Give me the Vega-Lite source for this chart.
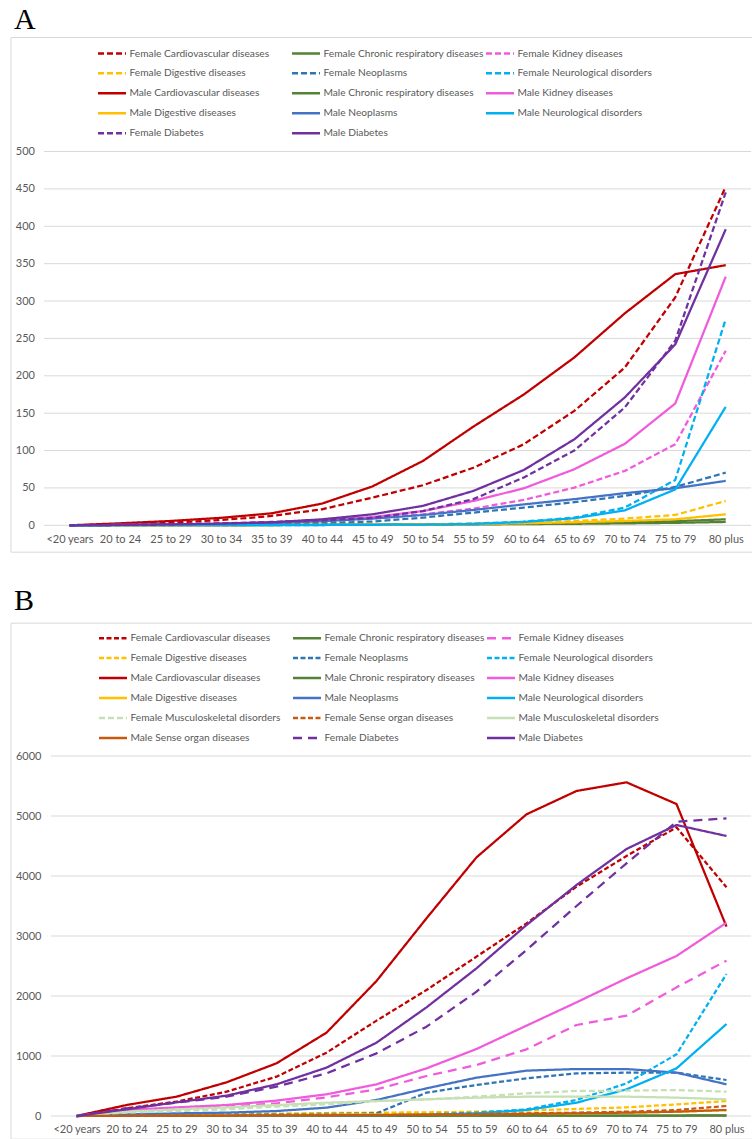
{
"$schema": "https://vega.github.io/schema/vega-lite/v6.json",
"padding": {"left": 9.5, "top": 4, "right": 0, "bottom": 0},
"spacing": 31.7,
"config": {"font": "Lato", "view": {"stroke": "#D9D9D9", "strokeWidth": 1},
 "legend": {"orient": "none", "direction": "horizontal", "title": null, "columns": 3, "gridAlign": "all", "columnPadding": 0, "rowPadding": 2, "clipHeight": 17.5, "symbolType": "stroke", "symbolSize": 784, "symbolStrokeWidth": 2.5, "labelFont": "Lato", "labelFontSize": 10.2, "labelColor": "#595959", "labelLimit": 300, "labelOffset": 2, "padding": 0},
 "title": {"anchor": "start", "frame": "group", "font": "Liberation Serif", "fontSize": 30, "fontWeight": "normal", "color": "#000000", "offset": 2, "dx": 3.5}},
"datasets": {
"a": [
{"age":"<20 years","series":"Female Cardiovascular diseases","value":0},{"age":"20 to 24","series":"Female Cardiovascular diseases","value":1.3},{"age":"25 to 29","series":"Female Cardiovascular diseases","value":3.6},{"age":"30 to 34","series":"Female Cardiovascular diseases","value":7},{"age":"35 to 39","series":"Female Cardiovascular diseases","value":12.5},{"age":"40 to 44","series":"Female Cardiovascular diseases","value":21.4},{"age":"45 to 49","series":"Female Cardiovascular diseases","value":37},{"age":"50 to 54","series":"Female Cardiovascular diseases","value":53.6},{"age":"55 to 59","series":"Female Cardiovascular diseases","value":77},{"age":"60 to 64","series":"Female Cardiovascular diseases","value":108.5},{"age":"65 to 69","series":"Female Cardiovascular diseases","value":153},{"age":"70 to 74","series":"Female Cardiovascular diseases","value":211},{"age":"75 to 79","series":"Female Cardiovascular diseases","value":305},{"age":"80 plus","series":"Female Cardiovascular diseases","value":453},
{"age":"<20 years","series":"Female Chronic respiratory diseases","value":0},{"age":"20 to 24","series":"Female Chronic respiratory diseases","value":0.1},{"age":"25 to 29","series":"Female Chronic respiratory diseases","value":0.2},{"age":"30 to 34","series":"Female Chronic respiratory diseases","value":0.3},{"age":"35 to 39","series":"Female Chronic respiratory diseases","value":0.4},{"age":"40 to 44","series":"Female Chronic respiratory diseases","value":0.5},{"age":"45 to 49","series":"Female Chronic respiratory diseases","value":0.7},{"age":"50 to 54","series":"Female Chronic respiratory diseases","value":0.9},{"age":"55 to 59","series":"Female Chronic respiratory diseases","value":1.2},{"age":"60 to 64","series":"Female Chronic respiratory diseases","value":1.6},{"age":"65 to 69","series":"Female Chronic respiratory diseases","value":2},{"age":"70 to 74","series":"Female Chronic respiratory diseases","value":2.6},{"age":"75 to 79","series":"Female Chronic respiratory diseases","value":3.3},{"age":"80 plus","series":"Female Chronic respiratory diseases","value":4.5},
{"age":"<20 years","series":"Female Kidney diseases","value":0},{"age":"20 to 24","series":"Female Kidney diseases","value":0.5},{"age":"25 to 29","series":"Female Kidney diseases","value":1},{"age":"30 to 34","series":"Female Kidney diseases","value":2},{"age":"35 to 39","series":"Female Kidney diseases","value":3.5},{"age":"40 to 44","series":"Female Kidney diseases","value":5.5},{"age":"45 to 49","series":"Female Kidney diseases","value":9},{"age":"50 to 54","series":"Female Kidney diseases","value":14.7},{"age":"55 to 59","series":"Female Kidney diseases","value":22.3},{"age":"60 to 64","series":"Female Kidney diseases","value":34},{"age":"65 to 69","series":"Female Kidney diseases","value":50.4},{"age":"70 to 74","series":"Female Kidney diseases","value":72.8},{"age":"75 to 79","series":"Female Kidney diseases","value":108.5},{"age":"80 plus","series":"Female Kidney diseases","value":233.5},
{"age":"<20 years","series":"Female Digestive diseases","value":0},{"age":"20 to 24","series":"Female Digestive diseases","value":0.1},{"age":"25 to 29","series":"Female Digestive diseases","value":0.2},{"age":"30 to 34","series":"Female Digestive diseases","value":0.3},{"age":"35 to 39","series":"Female Digestive diseases","value":0.5},{"age":"40 to 44","series":"Female Digestive diseases","value":0.7},{"age":"45 to 49","series":"Female Digestive diseases","value":1},{"age":"50 to 54","series":"Female Digestive diseases","value":1.5},{"age":"55 to 59","series":"Female Digestive diseases","value":2.2},{"age":"60 to 64","series":"Female Digestive diseases","value":3.6},{"age":"65 to 69","series":"Female Digestive diseases","value":5.8},{"age":"70 to 74","series":"Female Digestive diseases","value":9},{"age":"75 to 79","series":"Female Digestive diseases","value":13.8},{"age":"80 plus","series":"Female Digestive diseases","value":32.6},
{"age":"<20 years","series":"Female Neoplasms","value":0},{"age":"20 to 24","series":"Female Neoplasms","value":0.4},{"age":"25 to 29","series":"Female Neoplasms","value":0.8},{"age":"30 to 34","series":"Female Neoplasms","value":1.3},{"age":"35 to 39","series":"Female Neoplasms","value":2},{"age":"40 to 44","series":"Female Neoplasms","value":3},{"age":"45 to 49","series":"Female Neoplasms","value":5},{"age":"50 to 54","series":"Female Neoplasms","value":10.3},{"age":"55 to 59","series":"Female Neoplasms","value":17},{"age":"60 to 64","series":"Female Neoplasms","value":23.7},{"age":"65 to 69","series":"Female Neoplasms","value":31},{"age":"70 to 74","series":"Female Neoplasms","value":39.3},{"age":"75 to 79","series":"Female Neoplasms","value":51.3},{"age":"80 plus","series":"Female Neoplasms","value":70.5},
{"age":"<20 years","series":"Female Neurological disorders","value":0},{"age":"20 to 24","series":"Female Neurological disorders","value":0.1},{"age":"25 to 29","series":"Female Neurological disorders","value":0.1},{"age":"30 to 34","series":"Female Neurological disorders","value":0.2},{"age":"35 to 39","series":"Female Neurological disorders","value":0.3},{"age":"40 to 44","series":"Female Neurological disorders","value":0.4},{"age":"45 to 49","series":"Female Neurological disorders","value":0.6},{"age":"50 to 54","series":"Female Neurological disorders","value":1.3},{"age":"55 to 59","series":"Female Neurological disorders","value":2.2},{"age":"60 to 64","series":"Female Neurological disorders","value":5},{"age":"65 to 69","series":"Female Neurological disorders","value":10.3},{"age":"70 to 74","series":"Female Neurological disorders","value":23.7},{"age":"75 to 79","series":"Female Neurological disorders","value":60.7},{"age":"80 plus","series":"Female Neurological disorders","value":276},
{"age":"<20 years","series":"Male Cardiovascular diseases","value":0},{"age":"20 to 24","series":"Male Cardiovascular diseases","value":2.7},{"age":"25 to 29","series":"Male Cardiovascular diseases","value":5.8},{"age":"30 to 34","series":"Male Cardiovascular diseases","value":10},{"age":"35 to 39","series":"Male Cardiovascular diseases","value":16},{"age":"40 to 44","series":"Male Cardiovascular diseases","value":29},{"age":"45 to 49","series":"Male Cardiovascular diseases","value":52},{"age":"50 to 54","series":"Male Cardiovascular diseases","value":86},{"age":"55 to 59","series":"Male Cardiovascular diseases","value":132},{"age":"60 to 64","series":"Male Cardiovascular diseases","value":175},{"age":"65 to 69","series":"Male Cardiovascular diseases","value":224.5},{"age":"70 to 74","series":"Male Cardiovascular diseases","value":283.5},{"age":"75 to 79","series":"Male Cardiovascular diseases","value":336},{"age":"80 plus","series":"Male Cardiovascular diseases","value":348},
{"age":"<20 years","series":"Male Chronic respiratory diseases","value":0},{"age":"20 to 24","series":"Male Chronic respiratory diseases","value":0.1},{"age":"25 to 29","series":"Male Chronic respiratory diseases","value":0.2},{"age":"30 to 34","series":"Male Chronic respiratory diseases","value":0.3},{"age":"35 to 39","series":"Male Chronic respiratory diseases","value":0.5},{"age":"40 to 44","series":"Male Chronic respiratory diseases","value":0.7},{"age":"45 to 49","series":"Male Chronic respiratory diseases","value":1},{"age":"50 to 54","series":"Male Chronic respiratory diseases","value":1.3},{"age":"55 to 59","series":"Male Chronic respiratory diseases","value":1.7},{"age":"60 to 64","series":"Male Chronic respiratory diseases","value":2.2},{"age":"65 to 69","series":"Male Chronic respiratory diseases","value":3},{"age":"70 to 74","series":"Male Chronic respiratory diseases","value":4},{"age":"75 to 79","series":"Male Chronic respiratory diseases","value":5.5},{"age":"80 plus","series":"Male Chronic respiratory diseases","value":8},
{"age":"<20 years","series":"Male Kidney diseases","value":0},{"age":"20 to 24","series":"Male Kidney diseases","value":0.5},{"age":"25 to 29","series":"Male Kidney diseases","value":1},{"age":"30 to 34","series":"Male Kidney diseases","value":2},{"age":"35 to 39","series":"Male Kidney diseases","value":4},{"age":"40 to 44","series":"Male Kidney diseases","value":6.7},{"age":"45 to 49","series":"Male Kidney diseases","value":11},{"age":"50 to 54","series":"Male Kidney diseases","value":19},{"age":"55 to 59","series":"Male Kidney diseases","value":32.6},{"age":"60 to 64","series":"Male Kidney diseases","value":49.5},{"age":"65 to 69","series":"Male Kidney diseases","value":75},{"age":"70 to 74","series":"Male Kidney diseases","value":109},{"age":"75 to 79","series":"Male Kidney diseases","value":163},{"age":"80 plus","series":"Male Kidney diseases","value":332.6},
{"age":"<20 years","series":"Male Digestive diseases","value":0},{"age":"20 to 24","series":"Male Digestive diseases","value":0.1},{"age":"25 to 29","series":"Male Digestive diseases","value":0.2},{"age":"30 to 34","series":"Male Digestive diseases","value":0.3},{"age":"35 to 39","series":"Male Digestive diseases","value":0.4},{"age":"40 to 44","series":"Male Digestive diseases","value":0.5},{"age":"45 to 49","series":"Male Digestive diseases","value":0.8},{"age":"50 to 54","series":"Male Digestive diseases","value":1.3},{"age":"55 to 59","series":"Male Digestive diseases","value":1.8},{"age":"60 to 64","series":"Male Digestive diseases","value":2.7},{"age":"65 to 69","series":"Male Digestive diseases","value":4},{"age":"70 to 74","series":"Male Digestive diseases","value":5.8},{"age":"75 to 79","series":"Male Digestive diseases","value":8},{"age":"80 plus","series":"Male Digestive diseases","value":14.7},
{"age":"<20 years","series":"Male Neoplasms","value":0},{"age":"20 to 24","series":"Male Neoplasms","value":0.5},{"age":"25 to 29","series":"Male Neoplasms","value":1},{"age":"30 to 34","series":"Male Neoplasms","value":1.8},{"age":"35 to 39","series":"Male Neoplasms","value":3},{"age":"40 to 44","series":"Male Neoplasms","value":5.4},{"age":"45 to 49","series":"Male Neoplasms","value":9},{"age":"50 to 54","series":"Male Neoplasms","value":13.8},{"age":"55 to 59","series":"Male Neoplasms","value":20.5},{"age":"60 to 64","series":"Male Neoplasms","value":28},{"age":"65 to 69","series":"Male Neoplasms","value":35},{"age":"70 to 74","series":"Male Neoplasms","value":43},{"age":"75 to 79","series":"Male Neoplasms","value":49.6},{"age":"80 plus","series":"Male Neoplasms","value":59.4},
{"age":"<20 years","series":"Male Neurological disorders","value":0},{"age":"20 to 24","series":"Male Neurological disorders","value":0.1},{"age":"25 to 29","series":"Male Neurological disorders","value":0.1},{"age":"30 to 34","series":"Male Neurological disorders","value":0.2},{"age":"35 to 39","series":"Male Neurological disorders","value":0.3},{"age":"40 to 44","series":"Male Neurological disorders","value":0.4},{"age":"45 to 49","series":"Male Neurological disorders","value":0.7},{"age":"50 to 54","series":"Male Neurological disorders","value":1},{"age":"55 to 59","series":"Male Neurological disorders","value":1.8},{"age":"60 to 64","series":"Male Neurological disorders","value":4.5},{"age":"65 to 69","series":"Male Neurological disorders","value":9.4},{"age":"70 to 74","series":"Male Neurological disorders","value":20},{"age":"75 to 79","series":"Male Neurological disorders","value":48},{"age":"80 plus","series":"Male Neurological disorders","value":158.5},
{"age":"<20 years","series":"Female Diabetes","value":0},{"age":"20 to 24","series":"Female Diabetes","value":0.5},{"age":"25 to 29","series":"Female Diabetes","value":1.3},{"age":"30 to 34","series":"Female Diabetes","value":2.7},{"age":"35 to 39","series":"Female Diabetes","value":4.5},{"age":"40 to 44","series":"Female Diabetes","value":6.7},{"age":"45 to 49","series":"Female Diabetes","value":10},{"age":"50 to 54","series":"Female Diabetes","value":19},{"age":"55 to 59","series":"Female Diabetes","value":35},{"age":"60 to 64","series":"Female Diabetes","value":64},{"age":"65 to 69","series":"Female Diabetes","value":100},{"age":"70 to 74","series":"Female Diabetes","value":157.6},{"age":"75 to 79","series":"Female Diabetes","value":247},{"age":"80 plus","series":"Female Diabetes","value":445.5},
{"age":"<20 years","series":"Male Diabetes","value":0},{"age":"20 to 24","series":"Male Diabetes","value":0.5},{"age":"25 to 29","series":"Male Diabetes","value":1.3},{"age":"30 to 34","series":"Male Diabetes","value":2.2},{"age":"35 to 39","series":"Male Diabetes","value":4},{"age":"40 to 44","series":"Male Diabetes","value":8},{"age":"45 to 49","series":"Male Diabetes","value":14.7},{"age":"50 to 54","series":"Male Diabetes","value":26},{"age":"55 to 59","series":"Male Diabetes","value":46},{"age":"60 to 64","series":"Male Diabetes","value":74},{"age":"65 to 69","series":"Male Diabetes","value":115},{"age":"70 to 74","series":"Male Diabetes","value":171},{"age":"75 to 79","series":"Male Diabetes","value":242},{"age":"80 plus","series":"Male Diabetes","value":396}
],
"b": [
{"age":"<20 years","series":"Female Cardiovascular diseases","value":0},{"age":"20 to 24","series":"Female Cardiovascular diseases","value":128},{"age":"25 to 29","series":"Female Cardiovascular diseases","value":239},{"age":"30 to 34","series":"Female Cardiovascular diseases","value":405},{"age":"35 to 39","series":"Female Cardiovascular diseases","value":656},{"age":"40 to 44","series":"Female Cardiovascular diseases","value":1056},{"age":"45 to 49","series":"Female Cardiovascular diseases","value":1589},{"age":"50 to 54","series":"Female Cardiovascular diseases","value":2100},{"age":"55 to 59","series":"Female Cardiovascular diseases","value":2656},{"age":"60 to 64","series":"Female Cardiovascular diseases","value":3211},{"age":"65 to 69","series":"Female Cardiovascular diseases","value":3822},{"age":"70 to 74","series":"Female Cardiovascular diseases","value":4333},{"age":"75 to 79","series":"Female Cardiovascular diseases","value":4811},{"age":"80 plus","series":"Female Cardiovascular diseases","value":3811},
{"age":"<20 years","series":"Female Chronic respiratory diseases","value":0},{"age":"20 to 24","series":"Female Chronic respiratory diseases","value":1},{"age":"25 to 29","series":"Female Chronic respiratory diseases","value":2},{"age":"30 to 34","series":"Female Chronic respiratory diseases","value":2},{"age":"35 to 39","series":"Female Chronic respiratory diseases","value":3},{"age":"40 to 44","series":"Female Chronic respiratory diseases","value":3},{"age":"45 to 49","series":"Female Chronic respiratory diseases","value":4},{"age":"50 to 54","series":"Female Chronic respiratory diseases","value":4},{"age":"55 to 59","series":"Female Chronic respiratory diseases","value":5},{"age":"60 to 64","series":"Female Chronic respiratory diseases","value":5},{"age":"65 to 69","series":"Female Chronic respiratory diseases","value":6},{"age":"70 to 74","series":"Female Chronic respiratory diseases","value":6},{"age":"75 to 79","series":"Female Chronic respiratory diseases","value":7},{"age":"80 plus","series":"Female Chronic respiratory diseases","value":8},
{"age":"<20 years","series":"Female Kidney diseases","value":0},{"age":"20 to 24","series":"Female Kidney diseases","value":83},{"age":"25 to 29","series":"Female Kidney diseases","value":117},{"age":"30 to 34","series":"Female Kidney diseases","value":156},{"age":"35 to 39","series":"Female Kidney diseases","value":211},{"age":"40 to 44","series":"Female Kidney diseases","value":311},{"age":"45 to 49","series":"Female Kidney diseases","value":444},{"age":"50 to 54","series":"Female Kidney diseases","value":667},{"age":"55 to 59","series":"Female Kidney diseases","value":850},{"age":"60 to 64","series":"Female Kidney diseases","value":1111},{"age":"65 to 69","series":"Female Kidney diseases","value":1517},{"age":"70 to 74","series":"Female Kidney diseases","value":1672},{"age":"75 to 79","series":"Female Kidney diseases","value":2144},{"age":"80 plus","series":"Female Kidney diseases","value":2589},
{"age":"<20 years","series":"Female Digestive diseases","value":0},{"age":"20 to 24","series":"Female Digestive diseases","value":12},{"age":"25 to 29","series":"Female Digestive diseases","value":20},{"age":"30 to 34","series":"Female Digestive diseases","value":30},{"age":"35 to 39","series":"Female Digestive diseases","value":40},{"age":"40 to 44","series":"Female Digestive diseases","value":50},{"age":"45 to 49","series":"Female Digestive diseases","value":56},{"age":"50 to 54","series":"Female Digestive diseases","value":61},{"age":"55 to 59","series":"Female Digestive diseases","value":72},{"age":"60 to 64","series":"Female Digestive diseases","value":89},{"age":"65 to 69","series":"Female Digestive diseases","value":117},{"age":"70 to 74","series":"Female Digestive diseases","value":144},{"age":"75 to 79","series":"Female Digestive diseases","value":194},{"age":"80 plus","series":"Female Digestive diseases","value":250},
{"age":"<20 years","series":"Female Neoplasms","value":0},{"age":"20 to 24","series":"Female Neoplasms","value":10},{"age":"25 to 29","series":"Female Neoplasms","value":17},{"age":"30 to 34","series":"Female Neoplasms","value":22},{"age":"35 to 39","series":"Female Neoplasms","value":28},{"age":"40 to 44","series":"Female Neoplasms","value":35},{"age":"45 to 49","series":"Female Neoplasms","value":44},{"age":"50 to 54","series":"Female Neoplasms","value":389},{"age":"55 to 59","series":"Female Neoplasms","value":517},{"age":"60 to 64","series":"Female Neoplasms","value":628},{"age":"65 to 69","series":"Female Neoplasms","value":711},{"age":"70 to 74","series":"Female Neoplasms","value":722},{"age":"75 to 79","series":"Female Neoplasms","value":722},{"age":"80 plus","series":"Female Neoplasms","value":600},
{"age":"<20 years","series":"Female Neurological disorders","value":0},{"age":"20 to 24","series":"Female Neurological disorders","value":3},{"age":"25 to 29","series":"Female Neurological disorders","value":5},{"age":"30 to 34","series":"Female Neurological disorders","value":7},{"age":"35 to 39","series":"Female Neurological disorders","value":9},{"age":"40 to 44","series":"Female Neurological disorders","value":12},{"age":"45 to 49","series":"Female Neurological disorders","value":17},{"age":"50 to 54","series":"Female Neurological disorders","value":28},{"age":"55 to 59","series":"Female Neurological disorders","value":56},{"age":"60 to 64","series":"Female Neurological disorders","value":111},{"age":"65 to 69","series":"Female Neurological disorders","value":267},{"age":"70 to 74","series":"Female Neurological disorders","value":544},{"age":"75 to 79","series":"Female Neurological disorders","value":1028},{"age":"80 plus","series":"Female Neurological disorders","value":2367},
{"age":"<20 years","series":"Male Cardiovascular diseases","value":0},{"age":"20 to 24","series":"Male Cardiovascular diseases","value":183},{"age":"25 to 29","series":"Male Cardiovascular diseases","value":322},{"age":"30 to 34","series":"Male Cardiovascular diseases","value":561},{"age":"35 to 39","series":"Male Cardiovascular diseases","value":878},{"age":"40 to 44","series":"Male Cardiovascular diseases","value":1389},{"age":"45 to 49","series":"Male Cardiovascular diseases","value":2250},{"age":"50 to 54","series":"Male Cardiovascular diseases","value":3295},{"age":"55 to 59","series":"Male Cardiovascular diseases","value":4311},{"age":"60 to 64","series":"Male Cardiovascular diseases","value":5028},{"age":"65 to 69","series":"Male Cardiovascular diseases","value":5417},{"age":"70 to 74","series":"Male Cardiovascular diseases","value":5561},{"age":"75 to 79","series":"Male Cardiovascular diseases","value":5200},{"age":"80 plus","series":"Male Cardiovascular diseases","value":3156},
{"age":"<20 years","series":"Male Chronic respiratory diseases","value":0},{"age":"20 to 24","series":"Male Chronic respiratory diseases","value":1},{"age":"25 to 29","series":"Male Chronic respiratory diseases","value":2},{"age":"30 to 34","series":"Male Chronic respiratory diseases","value":2},{"age":"35 to 39","series":"Male Chronic respiratory diseases","value":3},{"age":"40 to 44","series":"Male Chronic respiratory diseases","value":3},{"age":"45 to 49","series":"Male Chronic respiratory diseases","value":4},{"age":"50 to 54","series":"Male Chronic respiratory diseases","value":4},{"age":"55 to 59","series":"Male Chronic respiratory diseases","value":5},{"age":"60 to 64","series":"Male Chronic respiratory diseases","value":5},{"age":"65 to 69","series":"Male Chronic respiratory diseases","value":6},{"age":"70 to 74","series":"Male Chronic respiratory diseases","value":7},{"age":"75 to 79","series":"Male Chronic respiratory diseases","value":8},{"age":"80 plus","series":"Male Chronic respiratory diseases","value":10},
{"age":"<20 years","series":"Male Kidney diseases","value":0},{"age":"20 to 24","series":"Male Kidney diseases","value":100},{"age":"25 to 29","series":"Male Kidney diseases","value":144},{"age":"30 to 34","series":"Male Kidney diseases","value":183},{"age":"35 to 39","series":"Male Kidney diseases","value":256},{"age":"40 to 44","series":"Male Kidney diseases","value":361},{"age":"45 to 49","series":"Male Kidney diseases","value":528},{"age":"50 to 54","series":"Male Kidney diseases","value":794},{"age":"55 to 59","series":"Male Kidney diseases","value":1117},{"age":"60 to 64","series":"Male Kidney diseases","value":1506},{"age":"65 to 69","series":"Male Kidney diseases","value":1894},{"age":"70 to 74","series":"Male Kidney diseases","value":2294},{"age":"75 to 79","series":"Male Kidney diseases","value":2667},{"age":"80 plus","series":"Male Kidney diseases","value":3222},
{"age":"<20 years","series":"Male Digestive diseases","value":0},{"age":"20 to 24","series":"Male Digestive diseases","value":8},{"age":"25 to 29","series":"Male Digestive diseases","value":12},{"age":"30 to 34","series":"Male Digestive diseases","value":16},{"age":"35 to 39","series":"Male Digestive diseases","value":20},{"age":"40 to 44","series":"Male Digestive diseases","value":24},{"age":"45 to 49","series":"Male Digestive diseases","value":28},{"age":"50 to 54","series":"Male Digestive diseases","value":30},{"age":"55 to 59","series":"Male Digestive diseases","value":33},{"age":"60 to 64","series":"Male Digestive diseases","value":39},{"age":"65 to 69","series":"Male Digestive diseases","value":44},{"age":"70 to 74","series":"Male Digestive diseases","value":56},{"age":"75 to 79","series":"Male Digestive diseases","value":72},{"age":"80 plus","series":"Male Digestive diseases","value":100},
{"age":"<20 years","series":"Male Neoplasms","value":0},{"age":"20 to 24","series":"Male Neoplasms","value":28},{"age":"25 to 29","series":"Male Neoplasms","value":44},{"age":"30 to 34","series":"Male Neoplasms","value":56},{"age":"35 to 39","series":"Male Neoplasms","value":83},{"age":"40 to 44","series":"Male Neoplasms","value":139},{"age":"45 to 49","series":"Male Neoplasms","value":267},{"age":"50 to 54","series":"Male Neoplasms","value":461},{"age":"55 to 59","series":"Male Neoplasms","value":639},{"age":"60 to 64","series":"Male Neoplasms","value":756},{"age":"65 to 69","series":"Male Neoplasms","value":783},{"age":"70 to 74","series":"Male Neoplasms","value":783},{"age":"75 to 79","series":"Male Neoplasms","value":722},{"age":"80 plus","series":"Male Neoplasms","value":528},
{"age":"<20 years","series":"Male Neurological disorders","value":0},{"age":"20 to 24","series":"Male Neurological disorders","value":2},{"age":"25 to 29","series":"Male Neurological disorders","value":3},{"age":"30 to 34","series":"Male Neurological disorders","value":4},{"age":"35 to 39","series":"Male Neurological disorders","value":6},{"age":"40 to 44","series":"Male Neurological disorders","value":9},{"age":"45 to 49","series":"Male Neurological disorders","value":13},{"age":"50 to 54","series":"Male Neurological disorders","value":22},{"age":"55 to 59","series":"Male Neurological disorders","value":44},{"age":"60 to 64","series":"Male Neurological disorders","value":100},{"age":"65 to 69","series":"Male Neurological disorders","value":222},{"age":"70 to 74","series":"Male Neurological disorders","value":444},{"age":"75 to 79","series":"Male Neurological disorders","value":794},{"age":"80 plus","series":"Male Neurological disorders","value":1533},
{"age":"<20 years","series":"Female Musculoskeletal disorders","value":0},{"age":"20 to 24","series":"Female Musculoskeletal disorders","value":56},{"age":"25 to 29","series":"Female Musculoskeletal disorders","value":83},{"age":"30 to 34","series":"Female Musculoskeletal disorders","value":111},{"age":"35 to 39","series":"Female Musculoskeletal disorders","value":156},{"age":"40 to 44","series":"Female Musculoskeletal disorders","value":194},{"age":"45 to 49","series":"Female Musculoskeletal disorders","value":250},{"age":"50 to 54","series":"Female Musculoskeletal disorders","value":278},{"age":"55 to 59","series":"Female Musculoskeletal disorders","value":322},{"age":"60 to 64","series":"Female Musculoskeletal disorders","value":378},{"age":"65 to 69","series":"Female Musculoskeletal disorders","value":417},{"age":"70 to 74","series":"Female Musculoskeletal disorders","value":422},{"age":"75 to 79","series":"Female Musculoskeletal disorders","value":433},{"age":"80 plus","series":"Female Musculoskeletal disorders","value":406},
{"age":"<20 years","series":"Female Sense organ diseases","value":0},{"age":"20 to 24","series":"Female Sense organ diseases","value":3},{"age":"25 to 29","series":"Female Sense organ diseases","value":5},{"age":"30 to 34","series":"Female Sense organ diseases","value":7},{"age":"35 to 39","series":"Female Sense organ diseases","value":9},{"age":"40 to 44","series":"Female Sense organ diseases","value":12},{"age":"45 to 49","series":"Female Sense organ diseases","value":17},{"age":"50 to 54","series":"Female Sense organ diseases","value":22},{"age":"55 to 59","series":"Female Sense organ diseases","value":33},{"age":"60 to 64","series":"Female Sense organ diseases","value":44},{"age":"65 to 69","series":"Female Sense organ diseases","value":56},{"age":"70 to 74","series":"Female Sense organ diseases","value":72},{"age":"75 to 79","series":"Female Sense organ diseases","value":100},{"age":"80 plus","series":"Female Sense organ diseases","value":167},
{"age":"<20 years","series":"Male Musculoskeletal disorders","value":0},{"age":"20 to 24","series":"Male Musculoskeletal disorders","value":72},{"age":"25 to 29","series":"Male Musculoskeletal disorders","value":111},{"age":"30 to 34","series":"Male Musculoskeletal disorders","value":144},{"age":"35 to 39","series":"Male Musculoskeletal disorders","value":183},{"age":"40 to 44","series":"Male Musculoskeletal disorders","value":222},{"age":"45 to 49","series":"Male Musculoskeletal disorders","value":250},{"age":"50 to 54","series":"Male Musculoskeletal disorders","value":278},{"age":"55 to 59","series":"Male Musculoskeletal disorders","value":306},{"age":"60 to 64","series":"Male Musculoskeletal disorders","value":322},{"age":"65 to 69","series":"Male Musculoskeletal disorders","value":322},{"age":"70 to 74","series":"Male Musculoskeletal disorders","value":322},{"age":"75 to 79","series":"Male Musculoskeletal disorders","value":306},{"age":"80 plus","series":"Male Musculoskeletal disorders","value":278},
{"age":"<20 years","series":"Male Sense organ diseases","value":0},{"age":"20 to 24","series":"Male Sense organ diseases","value":4},{"age":"25 to 29","series":"Male Sense organ diseases","value":6},{"age":"30 to 34","series":"Male Sense organ diseases","value":8},{"age":"35 to 39","series":"Male Sense organ diseases","value":10},{"age":"40 to 44","series":"Male Sense organ diseases","value":12},{"age":"45 to 49","series":"Male Sense organ diseases","value":15},{"age":"50 to 54","series":"Male Sense organ diseases","value":20},{"age":"55 to 59","series":"Male Sense organ diseases","value":25},{"age":"60 to 64","series":"Male Sense organ diseases","value":33},{"age":"65 to 69","series":"Male Sense organ diseases","value":44},{"age":"70 to 74","series":"Male Sense organ diseases","value":56},{"age":"75 to 79","series":"Male Sense organ diseases","value":72},{"age":"80 plus","series":"Male Sense organ diseases","value":100},
{"age":"<20 years","series":"Female Diabetes","value":0},{"age":"20 to 24","series":"Female Diabetes","value":128},{"age":"25 to 29","series":"Female Diabetes","value":222},{"age":"30 to 34","series":"Female Diabetes","value":322},{"age":"35 to 39","series":"Female Diabetes","value":489},{"age":"40 to 44","series":"Female Diabetes","value":711},{"age":"45 to 49","series":"Female Diabetes","value":1044},{"age":"50 to 54","series":"Female Diabetes","value":1489},{"age":"55 to 59","series":"Female Diabetes","value":2072},{"age":"60 to 64","series":"Female Diabetes","value":2767},{"age":"65 to 69","series":"Female Diabetes","value":3500},{"age":"70 to 74","series":"Female Diabetes","value":4211},{"age":"75 to 79","series":"Female Diabetes","value":4906},{"age":"80 plus","series":"Female Diabetes","value":4961},
{"age":"<20 years","series":"Male Diabetes","value":0},{"age":"20 to 24","series":"Male Diabetes","value":111},{"age":"25 to 29","series":"Male Diabetes","value":228},{"age":"30 to 34","series":"Male Diabetes","value":339},{"age":"35 to 39","series":"Male Diabetes","value":528},{"age":"40 to 44","series":"Male Diabetes","value":806},{"age":"45 to 49","series":"Male Diabetes","value":1222},{"age":"50 to 54","series":"Male Diabetes","value":1811},{"age":"55 to 59","series":"Male Diabetes","value":2461},{"age":"60 to 64","series":"Male Diabetes","value":3183},{"age":"65 to 69","series":"Male Diabetes","value":3850},{"age":"70 to 74","series":"Male Diabetes","value":4450},{"age":"75 to 79","series":"Male Diabetes","value":4850},{"age":"80 plus","series":"Male Diabetes","value":4667}
]},
"resolve": {"scale": {"color": "independent", "strokeDash": "independent", "x": "independent", "y": "independent"}, "legend": {"color": "independent", "strokeDash": "independent"}},
"vconcat": [
{
"title": {"text": "A"},
"width": 742.5, "height": 514.7,
"layer": [
{"data": {"values": [{"tick":0},{"tick":50},{"tick":100},{"tick":150},{"tick":200},{"tick":250},{"tick":300},{"tick":350},{"tick":400},{"tick":450},{"tick":500}]},
 "mark": {"type": "rule", "color": "#D9D9D9", "strokeWidth": 1, "xOffset": -25.5, "x2Offset": 25.3},
 "encoding": {
  "x": {"datum": "<20 years", "type": "ordinal", "scale": {"type": "point", "domain": ["<20 years","20 to 24","25 to 29","30 to 34","35 to 39","40 to 44","45 to 49","50 to 54","55 to 59","60 to 64","65 to 69","70 to 74","75 to 79","80 plus"], "padding": 0.8545, "align": 0.684}, "axis": {"orient": "bottom", "offset": -20, "domain": false, "ticks": false, "tickSize": 0, "grid": false, "title": null, "labelAngle": 0, "labelPadding": 2, "labelFont": "Lato", "labelFontSize": 11, "labelColor": "#595959"}},
  "x2": {"datum": "80 plus"},
  "y": {"field": "tick", "type": "quantitative", "scale": {"domain": [-35.3, 653.2], "nice": false, "zero": false}, "axis": {"orient": "left", "values": [0,50,100,150,200,250,300,350,400,450,500], "format": "d", "offset": -26, "domain": false, "ticks": false, "tickSize": 0, "grid": false, "title": null, "labelPadding": 2, "labelFont": "Lato", "labelFontSize": 11, "labelColor": "#595959"}}
 }},
{"data": {"name": "a"},
 "mark": {"type": "line", "strokeWidth": 2.25, "strokeJoin": "round"},
 "encoding": {
  "x": {"field": "age", "type": "ordinal", "sort": null, "scale": {"type": "point", "domain": ["<20 years","20 to 24","25 to 29","30 to 34","35 to 39","40 to 44","45 to 49","50 to 54","55 to 59","60 to 64","65 to 69","70 to 74","75 to 79","80 plus"], "padding": 0.8545, "align": 0.684}, "axis": {"orient": "bottom", "offset": -20, "domain": false, "ticks": false, "tickSize": 0, "grid": false, "title": null, "labelAngle": 0, "labelPadding": 2, "labelFont": "Lato", "labelFontSize": 11, "labelColor": "#595959"}},
  "y": {"field": "value", "type": "quantitative", "scale": {"domain": [-35.3, 653.2], "nice": false, "zero": false}, "axis": {"orient": "left", "values": [0,50,100,150,200,250,300,350,400,450,500], "format": "d", "offset": -26, "domain": false, "ticks": false, "tickSize": 0, "grid": false, "title": null, "labelPadding": 2, "labelFont": "Lato", "labelFontSize": 11, "labelColor": "#595959"}},
  "color": {"field": "series", "type": "nominal",
   "scale": {"domain": ["Female Cardiovascular diseases","Female Chronic respiratory diseases","Female Kidney diseases","Female Digestive diseases","Female Neoplasms","Female Neurological disorders","Male Cardiovascular diseases","Male Chronic respiratory diseases","Male Kidney diseases","Male Digestive diseases","Male Neoplasms","Male Neurological disorders","Female Diabetes","Male Diabetes"],
    "range": ["#C00000","#548235","#F05BDB","#FFC000","#2E75B6","#00B0F0","#C00000","#548235","#F05BDB","#FFC000","#4472C4","#00B0F0","#7030A0","#7030A0"]},
   "legend": {"legendX": 86, "legendY": 7.5, "direction": "horizontal", "columns": 3, "title": null}},
  "strokeDash": {"field": "series", "type": "nominal",
   "scale": {"domain": ["Female Cardiovascular diseases","Female Chronic respiratory diseases","Female Kidney diseases","Female Digestive diseases","Female Neoplasms","Female Neurological disorders","Male Cardiovascular diseases","Male Chronic respiratory diseases","Male Kidney diseases","Male Digestive diseases","Male Neoplasms","Male Neurological disorders","Female Diabetes","Male Diabetes"],
    "range": [[6,3],[1,0],[6,3],[6,3],[6,3],[6,3],[1,0],[1,0],[1,0],[1,0],[1,0],[1,0],[6,3],[1,0]]},
   "legend": {"legendX": 86, "legendY": 7.5, "direction": "horizontal", "columns": 3, "title": null}}
 }}
]
},
{
"title": {"text": "B", "offset": 7},
"width": 742.5, "height": 516,
"layer": [
{"data": {"values": [{"tick":0},{"tick":1000},{"tick":2000},{"tick":3000},{"tick":4000},{"tick":5000},{"tick":6000}]},
 "mark": {"type": "rule", "color": "#D9D9D9", "strokeWidth": 1, "xOffset": -25.5, "x2Offset": 24.5},
 "encoding": {
  "x": {"datum": "<20 years", "type": "ordinal", "scale": {"type": "point", "domain": ["<20 years","20 to 24","25 to 29","30 to 34","35 to 39","40 to 44","45 to 49","50 to 54","55 to 59","60 to 64","65 to 69","70 to 74","75 to 79","80 plus"], "padding": 0.925, "align": 0.7135}, "axis": {"orient": "bottom", "offset": -17, "domain": false, "ticks": false, "tickSize": 0, "grid": false, "title": null, "labelAngle": 0, "labelPadding": 2, "labelFont": "Lato", "labelFontSize": 11, "labelColor": "#595959"}},
  "x2": {"datum": "80 plus"},
  "y": {"field": "tick", "type": "quantitative", "scale": {"domain": [-378.3, 8221.7], "nice": false, "zero": false}, "axis": {"orient": "left", "values": [0,1000,2000,3000,4000,5000,6000], "format": "d", "offset": -32.5, "domain": false, "ticks": false, "tickSize": 0, "grid": false, "title": null, "labelPadding": 2, "labelFont": "Lato", "labelFontSize": 11, "labelColor": "#595959"}}
 }},
{"data": {"name": "b"},
 "mark": {"type": "line", "strokeWidth": 2.25, "strokeJoin": "round"},
 "encoding": {
  "x": {"field": "age", "type": "ordinal", "sort": null, "scale": {"type": "point", "domain": ["<20 years","20 to 24","25 to 29","30 to 34","35 to 39","40 to 44","45 to 49","50 to 54","55 to 59","60 to 64","65 to 69","70 to 74","75 to 79","80 plus"], "padding": 0.925, "align": 0.7135}, "axis": {"orient": "bottom", "offset": -17, "domain": false, "ticks": false, "tickSize": 0, "grid": false, "title": null, "labelAngle": 0, "labelPadding": 2, "labelFont": "Lato", "labelFontSize": 11, "labelColor": "#595959"}},
  "y": {"field": "value", "type": "quantitative", "scale": {"domain": [-378.3, 8221.7], "nice": false, "zero": false}, "axis": {"orient": "left", "values": [0,1000,2000,3000,4000,5000,6000], "format": "d", "offset": -32.5, "domain": false, "ticks": false, "tickSize": 0, "grid": false, "title": null, "labelPadding": 2, "labelFont": "Lato", "labelFontSize": 11, "labelColor": "#595959"}},
  "color": {"field": "series", "type": "nominal",
   "scale": {"domain": ["Female Cardiovascular diseases","Female Chronic respiratory diseases","Female Kidney diseases","Female Digestive diseases","Female Neoplasms","Female Neurological disorders","Male Cardiovascular diseases","Male Chronic respiratory diseases","Male Kidney diseases","Male Digestive diseases","Male Neoplasms","Male Neurological disorders","Female Musculoskeletal disorders","Female Sense organ diseases","Male Musculoskeletal disorders","Male Sense organ diseases","Female Diabetes","Male Diabetes"],
    "range": ["#C00000","#548235","#F05BDB","#FFC000","#2E75B6","#00B0F0","#C00000","#548235","#F05BDB","#FFC000","#4472C4","#00B0F0","#C5E0B4","#C55A11","#C5E0B4","#C55A11","#7030A0","#7030A0"]},
   "legend": {"legendX": 87, "legendY": 6.5, "direction": "horizontal", "columns": 3, "title": null}},
  "strokeDash": {"field": "series", "type": "nominal",
   "scale": {"domain": ["Female Cardiovascular diseases","Female Chronic respiratory diseases","Female Kidney diseases","Female Digestive diseases","Female Neoplasms","Female Neurological disorders","Male Cardiovascular diseases","Male Chronic respiratory diseases","Male Kidney diseases","Male Digestive diseases","Male Neoplasms","Male Neurological disorders","Female Musculoskeletal disorders","Female Sense organ diseases","Male Musculoskeletal disorders","Male Sense organ diseases","Female Diabetes","Male Diabetes"],
    "range": [[5,2.5],[1,0],[9,6],[5,2.5],[5,2.5],[5,2.5],[1,0],[1,0],[1,0],[1,0],[1,0],[1,0],[6,3],[5,2.5],[1,0],[1,0],[9,6],[1,0]]},
   "legend": {"legendX": 87, "legendY": 6.5, "direction": "horizontal", "columns": 3, "title": null}}
 }}
]
}
]
}
